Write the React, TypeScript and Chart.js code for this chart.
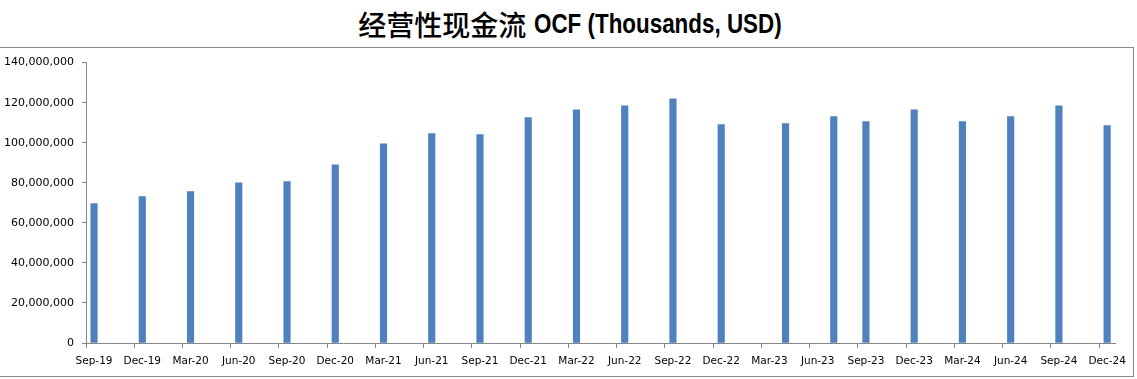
import React, { useEffect, useRef } from "react";
import { Chart, registerables } from "chart.js";

Chart.register(...registerables);

// Reporting periods (month-end dates of each data point)
const periods: string[] = [
  "Sep-19", "Dec-19", "Mar-20", "Jun-20", "Sep-20", "Dec-20",
  "Mar-21", "Jun-21", "Sep-21", "Dec-21", "Mar-22", "Jun-22",
  "Sep-22", "Dec-22", "Apr-23", "Jul-23", "Sep-23", "Dec-23",
  "Mar-24", "Jun-24", "Sep-24", "Dec-24",
];

// Operating cash flow (thousands USD)
const ocfValues: number[] = [
  69600000, 73100000, 75600000, 80000000, 80600000, 89000000,
  99500000, 104500000, 104000000, 112500000, 116400000, 118400000,
  121900000, 109100000, 109500000, 113000000, 110500000, 116400000,
  110500000, 113000000, 118400000, 108500000,
];

// Date axis: monthly bins from Sep-19 to Dec-24, labelled every quarter
const MONTH_NAMES = ["Jan", "Feb", "Mar", "Apr", "May", "Jun", "Jul", "Aug", "Sep", "Oct", "Nov", "Dec"];
const axisStart = { year: 2019, month: 8 };
const axisMonthCount = 64;

const yTicks: number[] = [0, 20000000, 40000000, 60000000, 80000000, 100000000, 120000000, 140000000];

const TITLE_CN = "经营性现金流";
const TITLE_EN = "OCF (Thousands, USD)";

function buildMonths(): string[] {
  const out: string[] = [];
  for (let i = 0; i < axisMonthCount; i++) {
    const m = (axisStart.month + i) % 12;
    const y = axisStart.year + Math.floor((axisStart.month + i) / 12);
    out.push(`${MONTH_NAMES[m]}-${String(y % 100).padStart(2, "0")}`);
  }
  return out;
}

export default function App() {
  const ref = useRef<HTMLCanvasElement | null>(null);

  useEffect(() => {
    if (!ref.current) return;
    const months = buildMonths();
    const data = months.map((m) => {
      const k = periods.indexOf(m);
      return k >= 0 ? ocfValues[k] : null;
    });
    const axisColor = "#868686";
    const chart = new Chart(ref.current, {
      type: "bar",
      data: {
        labels: months,
        datasets: [
          {
            data,
            backgroundColor: "#4F81BD",
            borderWidth: 0,
            barThickness: 6.5,
          },
        ],
      },
      options: {
        animation: false,
        responsive: false,
        maintainAspectRatio: false,
        layout: { padding: { top: 14, right: 15, bottom: 0, left: 0 } },
        plugins: { legend: { display: false }, tooltip: { enabled: false }, title: { display: false } },
        scales: {
          x: {
            type: "category",
            offset: true,
            grid: {
              display: true,
              offset: true,
              drawOnChartArea: false,
              drawTicks: true,
              tickLength: 5,
              tickColor: (ctx: any) => (ctx.index % 3 === 0 && ctx.index < axisMonthCount ? axisColor : "rgba(0,0,0,0)"),
            },
            border: { display: true, color: axisColor, width: 1 },
            ticks: {
              autoSkip: false,
              maxRotation: 0,
              minRotation: 0,
              padding: 7,
              color: "#000",
              font: { family: "DejaVu Sans", size: 10.5 },
              callback: (_v: any, i: number) => (i % 3 === 0 ? months[i] : ""),
            },
            afterFit: (s: any) => {
              s.height = 33;
            },
          },
          y: {
            min: 0,
            max: 140000000,
            afterBuildTicks: (s: any) => {
              s.ticks = yTicks.map((v) => ({ value: v }));
            },
            grid: {
              display: true,
              drawOnChartArea: false,
              drawTicks: true,
              tickLength: 4,
              tickColor: axisColor,
            },
            border: { display: true, color: axisColor, width: 1 },
            ticks: {
              padding: 8,
              color: "#000",
              font: { family: "DejaVu Sans", size: 11 },
              callback: (v: any) => Number(v).toLocaleString("en-US"),
            },
            afterFit: (s: any) => {
              s.width = 86;
            },
          },
        },
      },
    });
    return () => chart.destroy();
  }, []);

  return (
    <div style={{ position: "fixed", left: 0, top: 0, width: 1137, height: 379, background: "#fff", overflow: "hidden" }}>
      <div
        style={{
          position: "absolute",
          left: 0,
          top: 0,
          width: 1137,
          height: 48,
          display: "flex",
          alignItems: "center",
          justifyContent: "center",
          whiteSpace: "nowrap",
          color: "#000",
          paddingLeft: 3,
          boxSizing: "border-box",
        }}
      >
        <span style={{ fontFamily: '"Noto Sans CJK SC"', fontSize: 28, fontWeight: 500, lineHeight: "30px" }}>{TITLE_CN}</span>
        <span
          style={{
            display: "inline-block",
            fontFamily: '"Liberation Sans", sans-serif',
            fontSize: 28,
            fontWeight: 700,
            lineHeight: "30px",
            marginLeft: 8,
            marginRight: -62,
            transform: "scaleX(0.8)",
            transformOrigin: "left center",
          }}
        >
          {TITLE_EN}
        </span>
      </div>
      <div
        style={{
          position: "absolute",
          left: -1,
          top: 47,
          width: 1133,
          height: 328,
          border: "1px solid #888",
        }}
      >
        <canvas ref={ref} width={1133} height={328} style={{ display: "block", width: 1133, height: 328 }} />
      </div>
    </div>
  );
}
